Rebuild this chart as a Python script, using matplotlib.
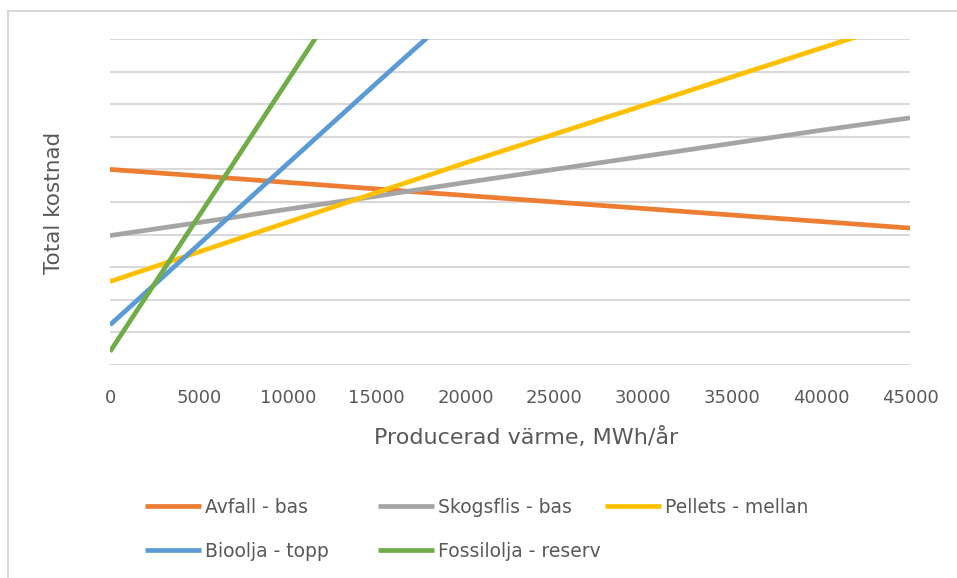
import matplotlib
matplotlib.use("Agg")
import matplotlib.pyplot as plt
from matplotlib.lines import Line2D

# producerad värme (MWh/år)
x = [0, 5000, 10000, 15000, 20000, 25000, 30000, 35000, 40000, 45000]

avfall = [6.0, 5.8, 5.6, 5.4, 5.2, 5.0, 4.8, 4.6, 4.4, 4.2]
skogsflis = [3.97, 4.37, 4.78, 5.18, 5.6, 6.0, 6.4, 6.8, 7.2, 7.58]
pellets = [2.56, 3.47, 4.38, 5.29, 6.2, 7.08, 7.96, 8.84, 9.72, 10.6]
x_bio = [0, 5000, 10000, 15000, 20000]
bioolja = [1.23, 3.7, 6.18, 8.65, 11.1]
x_fossil = [0, 5000, 10000, 15000]
fossilolja = [0.41, 4.57, 8.73, 12.9]

namn = ["Avfall - bas", "Skogsflis - bas", "Pellets - mellan",
        "Bioolja - topp", "Fossilolja - reserv"]
farger = ["#ED7D31", "#A5A5A5", "#FFC000", "#5B9BD5", "#70AD47"]
xticks = [0, 5000, 10000, 15000, 20000, 25000, 30000, 35000, 40000, 45000]

textfarg = "#595959"
plt.rcParams["font.family"] = ["DejaVu Sans"]

fig = plt.figure(figsize=(9.57, 5.78), dpi=100)
# ram runt diagrammet (bara vänster och övre kant syns)
ram_x, ram_y = 8 / 957, 1 - 11 / 578
fig.add_artist(Line2D([ram_x, ram_x], [0, ram_y], color="#D9D9D9", linewidth=1.5))
fig.add_artist(Line2D([ram_x, 1], [ram_y, ram_y], color="#D9D9D9", linewidth=1.5))

ax = fig.add_axes([110 / 957, 1 - 365 / 578, 800 / 957, 326 / 578])

serier = [(x, avfall), (x, skogsflis), (x, pellets), (x_bio, bioolja), (x_fossil, fossilolja)]
linjer = []
for (xs, ys), n, c in zip(serier, namn, farger):
    l, = ax.plot(xs, ys, color=c, linewidth=3.4, label=n, solid_capstyle="butt", zorder=3)
    linjer.append(l)

ax.set_xlim(0, 45000)
ax.set_ylim(0, 10)
ax.set_yticks(range(0, 11))
ax.set_yticklabels([])
ax.set_xticks(xticks)
ax.set_xticklabels([str(t) for t in xticks])
ax.tick_params(axis="both", length=0)
ax.tick_params(axis="x", pad=17, labelsize=13, labelcolor=textfarg)
ax.grid(axis="y", color="#D9D9D9", linewidth=1.5)
ax.set_axisbelow(True)
for s in ax.spines.values():
    s.set_visible(False)

ax.set_xlabel("Producerad värme, MWh/år", fontsize=16, color=textfarg)
ax.xaxis.set_label_coords(0.52, -0.19)
ax.set_ylabel("Total kostnad", fontsize=15.5, color=textfarg)
ax.yaxis.set_label_coords(-0.058, 0.497)

# legenden i tre kolumner, som i Excel
kolumner = [[0, 3], [1, 4], [2]]
kol_x = [145, 378, 605]
for idx, kx in zip(kolumner, kol_x):
    leg = fig.legend([linjer[i] for i in idx], [namn[i] for i in idx],
                     loc="upper left", bbox_to_anchor=(kx / 957, 1 - 498 / 578),
                     frameon=False, fontsize=13.5, handlelength=3.0, handletextpad=0.2,
                     labelspacing=1.32, borderpad=0, borderaxespad=0)
    for t in leg.get_texts():
        t.set_color(textfarg)

fig.savefig("out.png", dpi=100)
